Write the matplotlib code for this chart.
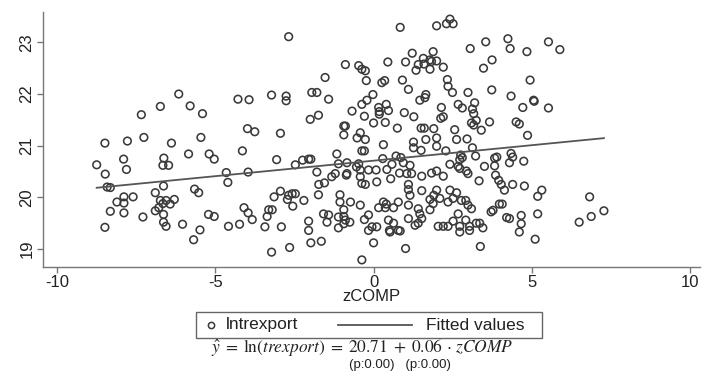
import matplotlib
matplotlib.use("Agg")
import matplotlib.pyplot as plt
from matplotlib.lines import Line2D
from matplotlib.patches import Rectangle
import numpy as np

# zCOMP (x) and ln(trexport) (y) observations
zcomp = [
    -2.68, -1.53, -6.15, -3.22, -2.76, -2.76, -4.28, -3.93, -1.95, -1.79,
    -1.42, -6.73, -5.79, -5.40, -7.33, -1.74, -2.00, -3.98, -3.75, -2.94,
    -8.48, -7.77, -7.25, -6.38, -5.45, -4.14, -1.16, -5.84, -5.19, -5.03,
    -7.89, -6.62, -8.74, -6.65, -6.47, -7.80, -8.47, -3.06, -2.24, -2.05,
    -1.98, -2.47, -1.11, -4.65, -3.96, -1.79, -1.21, -4.60, -1.32, -1.73,
    -1.55, -8.41, -8.31, -6.63, -6.89, -5.65, -5.52, -7.59, -7.88, -8.10,
    -7.88, -8.31, -7.88, -7.28, -8.48, -6.73, -6.65, -6.55, -6.29, -6.42,
    -6.78, -6.89, -6.63, -6.63, -6.55, -6.03, -5.48, -5.68, -5.21, -5.03,
    -4.58, -4.23, -4.09, -3.96, -3.83, -3.43, -3.36, -3.31, -3.20, -3.14,
    -2.94, -2.68, -2.57, -2.47, -2.72, -2.55, -2.20, -2.91, -3.22, -2.65,
    -2.05, -2.05, -1.98, -1.65, -1.74, -1.58, -1.42, -1.47, -1.06, -1.06,
    -1.11, -1.11,
    2.41, 2.51, 2.30, 1.99, 0.84, 4.24, 5.52, 3.54, 3.05, 4.31,
    4.84, 5.88, 1.22, 1.88, 1.57, 1.78, 1.99, 1.83, 1.41, 1.59,
    0.45, 1.01, 1.34, 1.78, 2.20, 3.74, 3.47, -0.89, -0.47, -0.37,
    -0.26, 4.94, -0.23, 0.26, 0.35, 0.91, 2.33, 2.35, 1.10, 2.49,
    2.98, 3.73, 1.65, 1.62, 1.46, 4.34, 5.05, 5.07, 4.71, 5.52,
    -0.02, -0.21, -0.37, -0.68, -0.29, 0.16, 0.40, 0.18, 0.18, 0.47,
    0.97, 1.27, 2.14, 2.67, 2.80, 3.19, 3.12, 3.16, 2.12, 2.20,
    3.24, 3.09, 3.16, 3.66, 4.50, 4.60, 3.40, 0.00, 0.37, 0.75,
    1.50, 1.60, 1.90, 2.56, 4.86, -0.94, -0.89, -0.94, -0.42, -0.52,
    -0.26, 0.31, 1.26, 1.65, 1.99, 2.62, 2.95, 1.26, 1.50, 1.99,
    2.28, 3.12, -0.37, -0.29, 0.71, 0.29, 0.86, 2.75, 2.72, 2.80,
    3.22, 3.82, 3.89, 4.34, 4.39, 4.29, 4.74, -0.84, -0.47, -0.54,
    0.58, 0.94, 1.15, 2.41, 2.67, 2.72, 3.50, 3.82, -0.84, -0.42,
    -0.16, 0.08, 0.42, 0.82, 1.05, 1.20, 1.52, 1.83, 1.99, 2.20,
    2.93, 2.98, 3.85, -0.42, -0.86, -0.37, -0.26, 0.10, 0.54, 3.33,
    3.95, 4.03, 4.39, 4.76, 4.13, 1.10, 1.10, 1.52, 1.99, 2.41,
    2.62, 5.31, 5.18, 6.82, 1.15, 1.90, 1.78, 2.09, 2.51, 2.77,
    2.91, 2.35, 1.88, 0.31, 0.40, 0.78, -0.73, -0.42, 0.16, 0.37,
    0.63, 1.10, 1.41, 1.78, 2.98, 3.09, 2.67, 3.97, 4.06, 3.77,
    3.71, -0.94, -0.94, -0.94, -0.89, -0.75, -0.29, -0.16, -0.05, -0.16,
    0.10, 0.47, 0.50, 0.63, 0.78, 0.84, 0.52, 1.10, 1.31, 1.41,
    1.52, 1.46, 2.04, 2.20, 2.35, 2.51, 2.72, 2.72, 3.03, 2.91,
    3.03, 3.24, 3.35, 3.45, 4.20, 4.29, 4.66, 4.66, 4.60, 5.18,
    5.10, 6.49, 6.87, 7.27, 0.00, 1.01, 3.37, -0.37,
]
lntrexport = [
    23.11, 22.32, 22.00, 21.98, 21.96, 21.87, 21.90, 21.89, 22.03, 22.03,
    21.90, 21.76, 21.77, 21.62, 21.60, 21.59, 21.51, 21.33, 21.27, 21.24,
    21.05, 21.09, 21.16, 21.05, 21.16, 20.90, 20.84, 20.84, 20.84, 20.74,
    20.74, 20.76, 20.63, 20.62, 20.62, 20.54, 20.45, 20.73, 20.72, 20.74,
    20.74, 20.63, 20.65, 20.48, 20.49, 20.49, 20.46, 20.29, 20.40, 20.25,
    20.28, 20.20, 20.19, 20.22, 20.09, 20.16, 20.09, 20.01, 20.01, 19.91,
    19.89, 19.73, 19.70, 19.62, 19.42, 19.94, 19.88, 19.94, 19.96, 19.87,
    19.80, 19.74, 19.67, 19.52, 19.44, 19.48, 19.37, 19.18, 19.67, 19.63,
    19.44, 19.48, 19.80, 19.70, 19.57, 19.43, 19.63, 19.76, 19.76, 20.01,
    20.12, 20.04, 20.07, 20.07, 19.96, 19.83, 19.94, 19.43, 18.94, 19.03,
    19.54, 19.36, 19.12, 19.15, 20.05, 19.68, 19.66, 19.52, 20.05, 19.91,
    19.62, 19.41,
    23.45, 23.36, 23.36, 23.32, 23.29, 23.07, 23.01, 23.01, 22.88, 22.88,
    22.82, 22.86, 22.79, 22.82, 22.69, 22.66, 22.64, 22.63, 22.57, 22.58,
    22.62, 22.62, 22.46, 22.48, 22.52, 22.66, 22.50, 22.57, 22.55, 22.48,
    22.45, 22.27, 22.26, 22.22, 22.26, 22.27, 22.28, 22.15, 22.09, 22.03,
    22.03, 22.08, 21.99, 21.93, 21.88, 21.96, 21.88, 21.86, 21.74, 21.73,
    21.99, 21.88, 21.80, 21.67, 21.57, 21.74, 21.80, 21.66, 21.61, 21.68,
    21.64, 21.56, 21.74, 21.80, 21.73, 21.83, 21.71, 21.62, 21.53, 21.56,
    21.49, 21.44, 21.40, 21.46, 21.46, 21.42, 21.30, 21.44, 21.45, 21.34,
    21.34, 21.34, 21.33, 21.31, 21.20, 21.38, 21.38, 21.21, 21.25, 21.15,
    21.12, 21.02, 21.07, 21.12, 21.15, 21.12, 21.13, 20.96, 20.91, 20.99,
    20.90, 20.96, 20.90, 20.90, 20.80, 20.75, 20.77, 20.82, 20.73, 20.77,
    20.80, 20.76, 20.78, 20.85, 20.78, 20.67, 20.70, 20.67, 20.65, 20.59,
    20.64, 20.67, 20.62, 20.64, 20.60, 20.56, 20.60, 20.61, 20.46, 20.53,
    20.53, 20.53, 20.54, 20.47, 20.46, 20.46, 20.41, 20.47, 20.51, 20.41,
    20.51, 20.46, 20.43, 20.40, 20.43, 20.27, 20.25, 20.30, 20.36, 20.32,
    20.33, 20.25, 20.25, 20.22, 20.14, 20.25, 20.15, 20.13, 20.14, 20.14,
    20.09, 20.14, 20.02, 20.01, 20.04, 20.04, 19.96, 19.98, 19.98, 19.94,
    19.94, 19.91, 19.88, 19.91, 19.87, 19.91, 19.91, 19.85, 19.80, 19.80,
    19.80, 19.85, 19.78, 19.76, 19.85, 19.78, 19.68, 19.87, 19.87, 19.75,
    19.72, 19.76, 19.63, 19.49, 19.56, 19.52, 19.57, 19.66, 19.43, 19.36,
    19.43, 19.56, 19.36, 19.50, 19.36, 19.35, 19.33, 19.59, 19.46, 19.50,
    19.59, 19.68, 19.44, 19.44, 19.44, 19.54, 19.44, 19.33, 19.36, 19.56,
    19.44, 19.50, 19.50, 19.41, 19.61, 19.59, 19.65, 19.49, 19.33, 19.68,
    19.19, 19.52, 19.63, 19.74, 19.12, 19.01, 19.05, 18.79,
]

# OLS coefficients reported in the caption
intercept = 20.71
slope = 0.06

x_ticks = [-10, -5, 0, 5, 10]
y_ticks = [19, 20, 21, 22, 23]
legend_labels = ["lntrexport", "Fitted values"]

plt.rcParams["font.family"] = ["Liberation Sans", "DejaVu Sans"]
plt.rcParams["mathtext.fontset"] = "stix"

W, H = 702, 371
fig = plt.figure(figsize=(W / 100, H / 100), dpi=100)
ax = fig.add_axes([0.061, 0.280, 0.936, 0.688])


def fx(px):
    return px / W


def fy(py):
    return 1 - py / H


pt_col = "#3a3a3a"
line_col = "#555555"
txt_col = "#222222"
ax.scatter(zcomp, lntrexport, s=30, facecolors="none", edgecolors=pt_col,
           linewidths=1.15, zorder=2)

xs = np.array([min(zcomp), max(zcomp)])
ax.plot(xs, intercept + slope * xs, color=line_col, lw=1.3, zorder=3)

ax.set_xlim(-10.44, 10.3)
ax.set_ylim(18.65, 23.59)
ax.set_xticks(x_ticks)
ax.set_yticks(y_ticks)
ax.set_xticklabels([str(t) for t in x_ticks], fontsize=12)
ax.set_yticklabels([str(t) for t in y_ticks], fontsize=12, rotation=90,
                   va="center")
ax.set_xlabel("zCOMP", fontsize=12, labelpad=-1, color=txt_col)

for side in ("top", "right"):
    ax.spines[side].set_visible(False)
for side in ("left", "bottom"):
    ax.spines[side].set_color("#777777")
    ax.spines[side].set_linewidth(1.0)
ax.tick_params(direction="out", length=4, width=1.0, color="#777777",
               pad=2, labelcolor=txt_col)

# legend box below the plot
fig.add_artist(Rectangle((fx(196), fy(338)), fx(542) - fx(196),
                         fy(312) - fy(338), transform=fig.transFigure,
                         fill=False, edgecolor="#666666", lw=1.0))
fig.add_artist(Line2D([fx(211)], [fy(325)], ls="none", marker="o",
                      markerfacecolor="none", markeredgecolor=pt_col,
                      markersize=4.5, markeredgewidth=1.1,
                      transform=fig.transFigure))
fig.text(fx(226), fy(325), legend_labels[0], ha="left", va="center",
         fontsize=12.5, color=txt_col)
fig.add_artist(Line2D([fx(338), fx(412)], [fy(325), fy(325)],
                      color=line_col, lw=1.3, transform=fig.transFigure))
fig.text(fx(426), fy(325), legend_labels[1], ha="left", va="center",
         fontsize=12.5, color=txt_col)

fig.text(fx(362), fy(348),
         r"$\hat{y}\;=\;\ln(\mathit{trexport})\;=\;20.71\;+\;0.06\,\cdot\,\mathit{zCOMP}$",
         ha="center", va="center", fontsize=12.5, color=txt_col)
fig.text(fx(400), fy(365), "(p:0.00)   (p:0.00)",
         ha="center", va="center", fontsize=9.5, color=txt_col)

fig.savefig("out.png", dpi=100)
